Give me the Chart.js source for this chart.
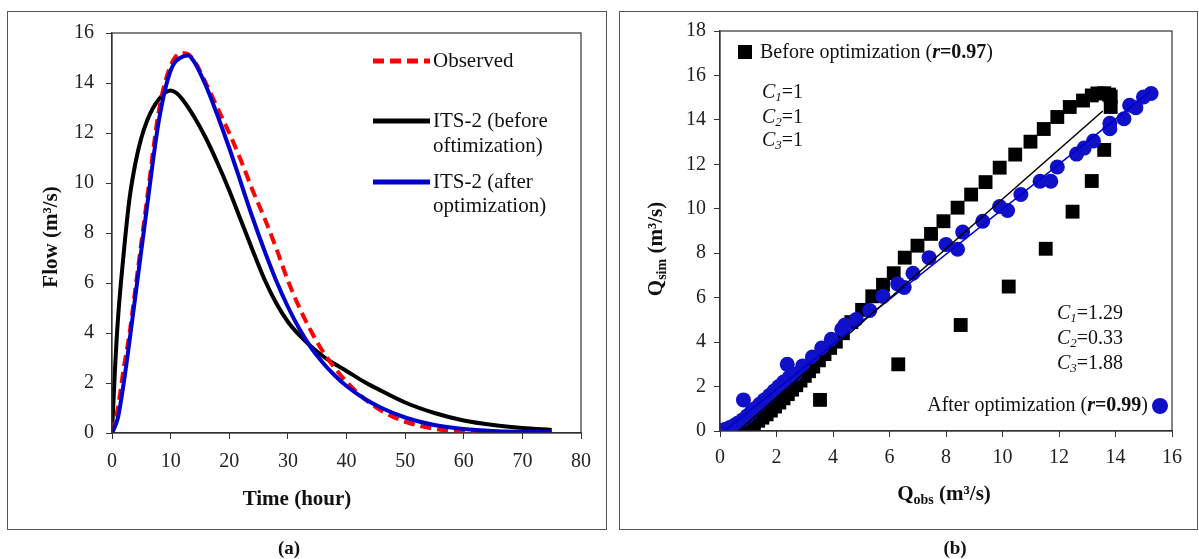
<!DOCTYPE html>
<html>
<head>
<meta charset="utf-8">
<script src="https://cdn.jsdelivr.net/npm/chart.js@4.4.1/dist/chart.umd.min.js"></script>
<style>
  body { margin: 0; background: #fff; width: 1199px; height: 559px; overflow: hidden; position: relative; }
  .frame { position: absolute; border: 1.5px solid #555; box-sizing: border-box; }
  .wrap { position: absolute; top: 0; height: 559px; }
</style>
</head>
<body>
<div class="frame" style="left:7px;top:11px;width:600px;height:519px"></div>
<div class="frame" style="left:619px;top:11px;width:579px;height:519px"></div>
<div class="wrap" style="left:0;width:610px"><canvas id="chartA"></canvas></div>
<div class="wrap" style="left:610px;width:589px"><canvas id="chartB"></canvas></div>
<script>
// ---- panel (a): hydrographs ----
const timeObs = [0,1,2,3,4,5,6,8,10,12,13,14,16,18,20,22,24,26,28,30,32,34,36,38,40,43,46,50,55,60,62];
const flowObs = [0,1.0,2.6,4.0,5.8,7.6,9.4,12.9,14.7,15.2,15.15,14.9,14.0,13.0,12.0,10.9,9.7,8.6,7.4,6.1,5.0,4.05,3.25,2.6,2.05,1.38,0.88,0.45,0.17,0.04,0];

const timeBefore = [0,0.5,1,2,3,4,5,6,7,8,9,10,11,12,14,16,18,20,22,24,26,28,30,32,34,36,38,40,43,46,50,55,60,65,70,75];
const flowBefore = [0,2.5,4.5,7.2,9.4,10.8,11.8,12.5,13.0,13.35,13.6,13.7,13.6,13.35,12.65,11.8,10.8,9.7,8.5,7.3,6.15,5.2,4.45,3.9,3.45,3.07,2.76,2.48,2.05,1.68,1.22,0.8,0.5,0.32,0.2,0.12];

const timeAfter = [0,1,2,3,4,5,6,8,10,12,13,14,16,18,20,22,24,26,28,30,32,34,36,38,40,43,46,50,55,60,65,70,75];
const flowAfter = [0,0.6,2.0,3.7,5.5,7.3,9.1,12.5,14.5,15.05,15.1,14.85,13.9,12.7,11.4,10.0,8.6,7.3,6.1,5.05,4.15,3.4,2.8,2.3,1.88,1.38,1.0,0.62,0.32,0.16,0.08,0.05,0.04];

const xTicksA = [0,80,10];   // min, max, step
const yTicksA = [0,16,2];

// ---- panel (b): simulated vs observed ----
const beforeObs = [0.6,0.75,0.9,1.05,1.2,1.35,1.5,1.65,1.8,1.95,2.1,2.25,2.4,2.55,2.7,2.85,3.0,3.15,3.3,3.5,3.7,3.9,4.1,4.35,4.65,5.03,5.39,5.77,6.15,6.54,6.99,7.47,7.91,8.41,8.89,9.4,9.9,10.45,10.99,11.46,11.94,12.38,12.85,13.16,13.36,13.6,13.77,13.83,13.83,13.6,13.16,12.48,11.53,10.22,8.52,6.31,3.54];
const beforeSim = [0,0.03,0.1,0.2,0.32,0.46,0.6,0.75,0.92,1.1,1.28,1.47,1.66,1.86,2.06,2.27,2.48,2.69,2.9,3.18,3.46,3.74,4.02,4.4,4.9,5.45,6.06,6.58,7.1,7.8,8.34,8.87,9.44,10.05,10.64,11.2,11.85,12.44,13.02,13.59,14.13,14.58,14.87,15.1,15.19,15.2,15.14,15.05,14.58,12.65,11.25,9.87,8.2,6.5,4.77,3.0,1.4];

const afterObs = [0,0.08,0.2,0.35,0.5,0.62,0.8,0.96,1.1,1.23,1.4,1.57,1.75,1.91,2.08,2.25,2.45,2.66,2.93,3.27,3.6,3.94,4.31,4.42,4.82,5.3,5.77,6.29,6.52,6.83,7.4,8.0,8.41,8.59,9.3,9.9,10.18,10.65,11.33,11.71,11.94,12.62,12.89,13.22,13.8,13.8,14.3,14.5,14.72,14.99,15.26,0.83,2.38];
const afterSim = [0,0.03,0.08,0.16,0.25,0.35,0.5,0.68,0.84,1.0,1.2,1.4,1.6,1.8,2.0,2.2,2.4,2.56,2.93,3.33,3.73,4.13,4.58,4.77,5.02,5.42,6.06,6.62,6.46,7.1,7.8,8.39,8.18,8.95,9.44,10.1,9.92,10.64,11.24,11.24,11.88,12.46,12.73,13.05,13.85,13.6,14.05,14.66,14.55,15.03,15.19,1.4,3.0];

const beforeFitObs = [0.65, 13.55];
const beforeFitSim = [0, 14.4];
const afterFitObs = [0.15, 15.2];
const afterFitSim = [0, 15.25];

const xTicksB = [0,16,2];
const yTicksB = [0,18,2];

const FONT = '"Liberation Serif", "Times New Roman", serif';
const pts = (xs, ys) => xs.map((x, i) => ({x: x, y: ys[i]}));

function drawRuns(ctx, x, y, parts, align) {
  let w = 0;
  parts.forEach(p => { ctx.font = p[1]; w += ctx.measureText(p[0]).width; });
  let cx = align === 'right' ? x - w : (align === 'center' ? x - w / 2 : x);
  ctx.textAlign = 'left';
  ctx.textBaseline = 'middle';
  parts.forEach(p => {
    ctx.font = p[1];
    ctx.fillText(p[0], cx, y + (p[2] || 0));
    cx += ctx.measureText(p[0]).width;
  });
}

function axisOpts(t, fit, pad) {
  return {
    type: 'linear', min: t[0], max: t[1],
    ticks: { stepSize: t[2], color: '#222', padding: pad, font: { family: FONT, size: 20 } },
    grid: { drawOnChartArea: false, tickLength: 6, color: '#333' },
    border: { display: true, color: '#333', width: 1.2 },
    afterFit: fit
  };
}

const boxPlugin = {
  id: 'box',
  afterDatasetsDraw(chart) {
    const {ctx, chartArea: a} = chart;
    ctx.save();
    ctx.strokeStyle = '#333';
    ctx.lineWidth = 1.2;
    ctx.strokeRect(a.left, a.top, a.right - a.left, a.bottom - a.top);
    ctx.restore();
  }
};

// annotations for (a)
const textA = {
  id: 'textA',
  afterDraw(chart) {
    const ctx = chart.ctx;
    ctx.save();
    ctx.lineWidth = 5;
    ctx.strokeStyle = '#ff0000';
    ctx.setLineDash([11, 6]);
    ctx.beginPath(); ctx.moveTo(373, 61); ctx.lineTo(430, 61); ctx.stroke();
    ctx.setLineDash([]);
    ctx.strokeStyle = '#000';
    ctx.beginPath(); ctx.moveTo(373, 121); ctx.lineTo(430, 121); ctx.stroke();
    ctx.strokeStyle = '#0000cc';
    ctx.beginPath(); ctx.moveTo(373, 182); ctx.lineTo(430, 182); ctx.stroke();

    ctx.fillStyle = '#111';
    const reg = '21px ' + FONT;
    drawRuns(ctx, 433, 61, [['Observed', reg]]);
    drawRuns(ctx, 433, 121, [['ITS-2 (before', reg]]);
    drawRuns(ctx, 433, 146, [['oftimization)', reg]]);
    drawRuns(ctx, 433, 182, [['ITS-2 (after', reg]]);
    drawRuns(ctx, 433, 206, [['optimization)', reg]]);

    const bold = 'bold 21px ' + FONT;
    drawRuns(ctx, 297, 500, [['Time (hour)', bold]], 'center');
    ctx.save();
    ctx.translate(52, 237);
    ctx.rotate(-Math.PI / 2);
    drawRuns(ctx, 0, 0, [['Flow (m³/s)', bold]], 'center');
    ctx.restore();

    drawRuns(ctx, 289, 549, [['(a)', 'bold 19px ' + FONT]], 'center');
    ctx.restore();
  }
};

// annotations for (b), page x minus 610
const textB = {
  id: 'textB',
  afterDraw(chart) {
    const ctx = chart.ctx;
    const o = 610;
    const reg = '20px ' + FONT, it = 'italic 20px ' + FONT, sub = 'italic 13px ' + FONT;
    const bd = 'bold 20px ' + FONT, bi = 'bold italic 20px ' + FONT;
    ctx.save();
    ctx.fillStyle = '#000';
    ctx.fillRect(738 - o, 45, 14, 14);
    ctx.fillStyle = '#111';
    drawRuns(ctx, 760 - o, 53, [['Before optimization (', reg], ['r', bi], ['=0.97', bd], [')', reg]]);

    [['1', '=1', 93], ['2', '=1', 118], ['3', '=1', 141]].forEach(c =>
      drawRuns(ctx, 762 - o, c[2], [['C', it], [c[0], sub, 5], [c[1], reg]]));
    [['1', '=1.29', 314], ['2', '=0.33', 339], ['3', '=1.88', 364]].forEach(c =>
      drawRuns(ctx, 1057 - o, c[2], [['C', it], [c[0], sub, 5], [c[1], reg]]));

    drawRuns(ctx, 1148 - o, 406, [['After optimization (', reg], ['r', bi], ['=0.99', bd], [')', reg]], 'right');
    ctx.fillStyle = '#1010c8';
    ctx.beginPath(); ctx.arc(1160 - o, 406, 8, 0, Math.PI * 2); ctx.fill();

    ctx.fillStyle = '#111';
    const B = 'bold 21px ' + FONT, Bs = 'bold 14px ' + FONT;
    drawRuns(ctx, 944 - o, 495, [['Q', B], ['obs', Bs, 5], [' (m³/s)', B]], 'center');
    ctx.save();
    ctx.translate(657 - o, 249);
    ctx.rotate(-Math.PI / 2);
    drawRuns(ctx, 0, 0, [['Q', B], ['sim', Bs, 5], [' (m³/s)', B]], 'center');
    ctx.restore();

    drawRuns(ctx, 955 - o, 549, [['(b)', 'bold 19px ' + FONT]], 'center');
    ctx.restore();
  }
};

new Chart(document.getElementById('chartA'), {
  type: 'line',
  data: {
    datasets: [
      { label: 'ITS-2 (after optimization)', data: pts(timeAfter, flowAfter), borderColor: '#0000cc', borderWidth: 4, order: 0 },
      { label: 'Observed', data: pts(timeObs, flowObs), borderColor: '#ff0000', borderWidth: 4, borderDash: [11, 6], order: 1 },
      { label: 'ITS-2 (before oftimization)', data: pts(timeBefore, flowBefore), borderColor: '#000000', borderWidth: 4, order: 2 }
    ]
  },
  options: {
    responsive: true, maintainAspectRatio: false, animation: false,
    layout: { padding: { top: 33, right: 29, left: 0, bottom: 0 } },
    elements: { point: { radius: 0 }, line: { cubicInterpolationMode: 'monotone', fill: false } },
    plugins: { legend: { display: false }, tooltip: { enabled: false } },
    scales: {
      x: axisOpts(xTicksA, s => { s.height = 126; }, 11),
      y: axisOpts(yTicksA, s => { s.width = 112; }, 12)
    }
  },
  plugins: [boxPlugin, textA]
});

new Chart(document.getElementById('chartB'), {
  type: 'scatter',
  data: {
    datasets: [
      { type: 'line', label: 'fit before', data: pts(beforeFitObs, beforeFitSim), borderColor: '#000', borderWidth: 1.5, pointRadius: 0, order: 0 },
      { type: 'line', label: 'fit after', data: pts(afterFitObs, afterFitSim), borderColor: '#0000cc', borderWidth: 1.5, pointRadius: 0, order: 0 },
      { label: 'After optimization', data: pts(afterObs, afterSim), pointStyle: 'circle', pointRadius: 7.5, backgroundColor: '#1010c8', borderWidth: 0, order: 1 },
      { label: 'Before optimization', data: pts(beforeObs, beforeSim), pointStyle: 'rect', pointRadius: 9.8, backgroundColor: '#000', borderWidth: 0, order: 2 }
    ]
  },
  options: {
    responsive: true, maintainAspectRatio: false, animation: false,
    layout: { padding: { top: 31, right: 27, left: 0, bottom: 0 } },
    plugins: { legend: { display: false }, tooltip: { enabled: false } },
    scales: {
      x: axisOpts(xTicksB, s => { s.height = 128; }, 9),
      y: axisOpts(yTicksB, s => { s.width = 110; }, 8)
    }
  },
  plugins: [boxPlugin, textB]
});
</script>
</body>
</html>
